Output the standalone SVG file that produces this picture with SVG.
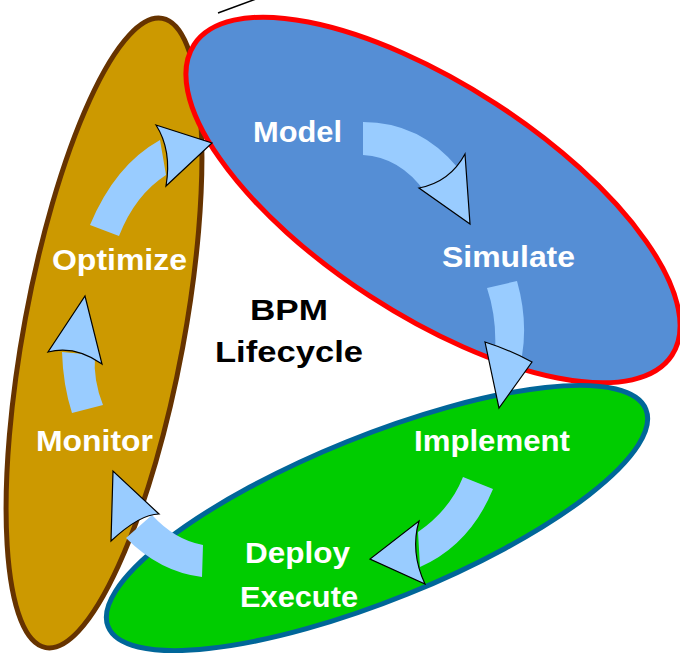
<svg xmlns="http://www.w3.org/2000/svg" width="680" height="655" viewBox="0 0 680 655">
<style>
.lbl{font-family:"Liberation Sans",Arial,sans-serif;font-weight:bold;font-size:29px;fill:#ffffff;text-anchor:middle}
.ttl{font-family:"Liberation Sans",Arial,sans-serif;font-weight:bold;font-size:30px;fill:#000000;text-anchor:middle}
.shaft{fill:#99CCFF;stroke:none}
.head{fill:#99CCFF;stroke:#000000;stroke-width:1.2;stroke-linejoin:miter}
</style>
<rect width="680" height="655" fill="#ffffff"/>
<line x1="218" y1="13" x2="256" y2="-1" stroke="#000000" stroke-width="1.5"/>
<g id="monitor-phase">
<ellipse cx="104" cy="333" rx="80" ry="320" transform="rotate(10.5 104 333)" fill="#CC9900" stroke="#663300" stroke-width="5"/>
</g>
<g id="model-phase">
<ellipse cx="433" cy="200" rx="285" ry="115" transform="rotate(33 433 200)" fill="#558ED5" stroke="#FF0000" stroke-width="5"/>
</g>
<g id="implement-phase">
<ellipse cx="377" cy="518" rx="290" ry="82" transform="rotate(-22 377 518)" fill="#00CC00" stroke="#006699" stroke-width="5"/>
</g>
<g id="connectors">
<path class="shaft" d="M363,122 Q420,122 458,168 L425,192 Q400,157 363,155 Z"/>
<path class="head" d="M419,188 Q450,182 465,154 L470,224 Z"/>
<path class="shaft" d="M487,288 L517,281 Q528,320 522,356 L495,352 Q497,318 487,288 Z"/>
<path class="head" d="M485,342 Q510,350 532,362 L499,408 Z"/>
<path class="shaft" d="M463,477 L493,489 Q470,545 420,567 L418,532 Q450,510 463,477 Z"/>
<path class="head" d="M419,521 Q410,552 425,584 L370,559 Z"/>
<path class="shaft" d="M203,545 L202,577 Q160,572 126,538 L152,515 Q175,540 203,545 Z"/>
<path class="head" d="M111,541 Q140,514 159,514 L113,471 Z"/>
<path class="shaft" d="M72,413 L103,405 Q93,380 95,355 L62,352 Q63,385 72,413 Z"/>
<path class="head" d="M48,352 Q75,345 102,364 L85,296 Z"/>
<path class="shaft" d="M90,225 Q115,165 160,140 L166,175 Q135,195 119,236 Z"/>
<path class="head" d="M156,125 Q172,150 166,186 L212,143 Z"/>
</g>
<g id="label-model"><text class="lbl" x="297.5" y="142" textLength="89" lengthAdjust="spacingAndGlyphs">Model</text></g>
<g id="label-simulate"><text class="lbl" x="508.5" y="267" textLength="133" lengthAdjust="spacingAndGlyphs">Simulate</text></g>
<g id="label-implement"><text class="lbl" x="492" y="451" textLength="156" lengthAdjust="spacingAndGlyphs">Implement</text></g>
<g id="label-deploy"><text class="lbl" x="297.5" y="563" textLength="105" lengthAdjust="spacingAndGlyphs">Deploy</text><text class="lbl" x="299" y="607" textLength="118" lengthAdjust="spacingAndGlyphs">Execute</text></g>
<g id="label-monitor"><text class="lbl" x="94.5" y="451" textLength="117" lengthAdjust="spacingAndGlyphs">Monitor</text></g>
<g id="label-optimize"><text class="lbl" x="119.5" y="270" textLength="135" lengthAdjust="spacingAndGlyphs">Optimize</text></g>
<g id="title"><text class="ttl" x="289" y="320" textLength="78" lengthAdjust="spacingAndGlyphs">BPM</text><text class="ttl" x="289" y="362" textLength="148" lengthAdjust="spacingAndGlyphs">Lifecycle</text></g>
</svg>
